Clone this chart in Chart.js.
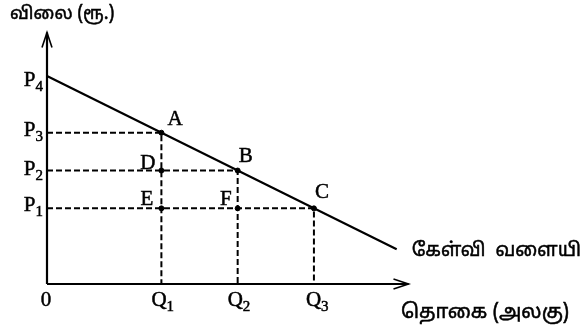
<!DOCTYPE html>
<html>
<head>
<meta charset="utf-8">
<script src="https://cdn.jsdelivr.net/npm/chart.js@4/dist/chart.umd.min.js"></script>
<style>
  html, body { margin: 0; padding: 0; background: #fff; }
  #wrap { width: 587px; height: 336px; }
</style>
</head>
<body>
<div id="wrap"><canvas id="demandChart" width="587" height="336"></canvas></div>
<script>
// quantity levels on the x axis
const qLabels = ['Q1', 'Q2', 'Q3'];
const qValues = [3, 5, 7];

// price levels on the y axis
const pLabels = ['P1', 'P2', 'P3', 'P4'];
const pValues = [2, 3, 4, 5.5];

// demand curve ends
const demandX = [0, 9.17];
const demandY = [5.5, 0.92];

// marked points
const pointNames = ['A', 'B', 'C', 'D', 'E', 'F'];
const pointX = [3, 5, 7, 3, 3, 5];
const pointY = [4, 3, 2, 3, 2, 2];

const yTitle = 'விலை (ரூ.)';
const xTitle = 'தொகை (அலகு)';
const curveName = 'கேள்வி  வளையி';

const xAxisEnd = 9.48;
const yAxisEnd = 6.65;

const serif = '"Liberation Serif", "Times New Roman", serif';
const tamil = '"Noto Sans Tamil", "Lohit Tamil", "Noto Sans", sans-serif';

// label offsets (px) from each point: [dx, dy, align]
const pointOffsets = {
    A: [6, -8, 'left'], B: [1, -9, 'left'], C: [1, -10, 'left'],
    D: [-6, -2, 'right'], E: [-8, -3, 'right'], F: [-6, -3, 'right']
};
const pOffsets = [3, 4, 3, 10];
const qOffsets = [-10, -10, -8];

const guideSets = [0, 1, 2].map(i => ({
    data: [{x: 0, y: pointY[i]}, {x: pointX[i], y: pointY[i]}, {x: pointX[i], y: 0}],
    borderColor: '#000',
    borderWidth: 2,
    borderDash: [6, 3],
    pointRadius: 0,
    showLine: true,
    fill: false,
}));

// draw text a little heavier, like the printed figure
const inkText = (ctx, text, x, y) => {
    ctx.fillText(text, x, y);
    ctx.lineWidth = 0.5;
    ctx.strokeText(text, x, y);
};

const drawSubLabel = (ctx, text, x, baseline, align) => {
    const main = text.charAt(0);
    const sub = text.slice(1);
    ctx.font = `21px ${serif}`;
    const wMain = ctx.measureText(main).width;
    ctx.font = `15px ${serif}`;
    const wSub = ctx.measureText(sub).width;
    let left = x;
    if (align === 'right') left = x - wMain - wSub;
    ctx.textAlign = 'left';
    ctx.textBaseline = 'alphabetic';
    ctx.font = `21px ${serif}`;
    inkText(ctx, main, left, baseline);
    ctx.font = `15px ${serif}`;
    inkText(ctx, sub, left + wMain, baseline + 5);
};

const annotations = {
    id: 'annotations',
    afterDatasetsDraw(chart) {
        const {ctx, scales: {x, y}} = chart;
        const x0 = x.getPixelForValue(0);
        const y0 = y.getPixelForValue(0);
        const xEnd = x.getPixelForValue(xAxisEnd);
        const yEnd = y.getPixelForValue(yAxisEnd);
        ctx.save();
        ctx.strokeStyle = '#000';
        ctx.fillStyle = '#000';
        ctx.lineWidth = 2.2;
        ctx.setLineDash([]);

        // axes with open arrow heads
        ctx.beginPath();
        ctx.moveTo(x0, y0);
        ctx.lineTo(x0, yEnd);
        ctx.moveTo(x0, y0);
        ctx.lineTo(xEnd, y0);
        ctx.stroke();
        ctx.lineWidth = 1.6;
        ctx.beginPath();
        ctx.moveTo(x0 - 5, yEnd + 15);
        ctx.lineTo(x0, yEnd);
        ctx.lineTo(x0 + 5, yEnd + 15);
        ctx.moveTo(xEnd - 15, y0 - 5);
        ctx.lineTo(xEnd, y0);
        ctx.lineTo(xEnd - 15, y0 + 5);
        ctx.stroke();

        // price labels
        pLabels.forEach((lab, i) => {
            drawSubLabel(ctx, lab, x0 - 4, y.getPixelForValue(pValues[i]) + pOffsets[i], 'right');
        });
        // quantity labels
        qLabels.forEach((lab, i) => {
            drawSubLabel(ctx, lab, x.getPixelForValue(qValues[i]) + qOffsets[i], y0 + 22, 'left');
        });
        ctx.font = `21px ${serif}`;
        ctx.textAlign = 'center';
        inkText(ctx, '0', x0 - 1, y0 + 22);

        // point names
        pointNames.forEach((name, i) => {
            const [dx, dy, align] = pointOffsets[name];
            ctx.font = `21px ${serif}`;
            ctx.textAlign = align;
            inkText(ctx, name, x.getPixelForValue(pointX[i]) + dx, y.getPixelForValue(pointY[i]) + dy);
        });

        // tamil titles
        ctx.textAlign = 'left';
        ctx.textBaseline = 'middle';
        ctx.font = `18px ${tamil}`;
        inkText(ctx, yTitle, 10, 15);
        ctx.font = `19px ${tamil}`;
        inkText(ctx, curveName, x.getPixelForValue(demandX[1]) + 15, y.getPixelForValue(demandY[1]) + 3);
        ctx.font = `20px ${tamil}`;
        inkText(ctx, xTitle, x.getPixelForValue(qValues[2]) + 87, y0 + 30);
        ctx.restore();
    }
};

new Chart(document.getElementById('demandChart'), {
    type: 'scatter',
    data: {
        datasets: [
            {
                data: demandX.map((v, i) => ({x: v, y: demandY[i]})),
                borderColor: '#000',
                borderWidth: 2.2,
                pointRadius: 0,
                showLine: true,
            },
            ...guideSets,
            {
                data: pointX.map((v, i) => ({x: v, y: pointY[i]})),
                backgroundColor: '#000',
                borderColor: '#000',
                pointRadius: 2.5,
                showLine: false,
            },
        ]
    },
    options: {
        responsive: false,
        animation: false,
        layout: { padding: { left: 47, right: 0, top: 0, bottom: 52 } },
        plugins: { legend: { display: false }, tooltip: { enabled: false } },
        scales: {
            x: { type: 'linear', min: 0, max: 14.03, display: false },
            y: { type: 'linear', min: 0, max: 7.377, display: false },
        },
    },
    plugins: [annotations],
});
</script>
</body>
</html>
